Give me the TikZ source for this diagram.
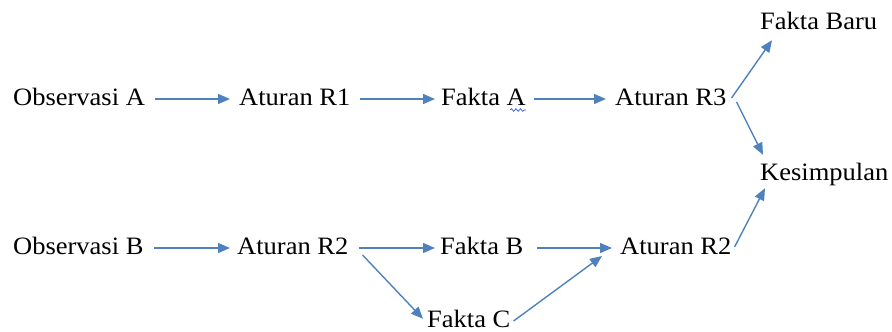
\documentclass[tikz,border=0pt]{standalone}
\usepackage{fontspec}
\setmainfont{Liberation Serif}[FakeStretch=1.06]
\usetikzlibrary{arrows.meta,calc,decorations.pathmorphing}
\definecolor{arrowblue}{RGB}{79,129,189}
\definecolor{spellblue}{RGB}{40,90,230}
\tikzset{
  term/.style={anchor=base west, inner sep=0pt, text height=12pt, text depth=0pt,
    font=\fontsize{25}{30}\selectfont},
  flow/.style={draw=arrowblue, line width=1.4pt,
    -{Triangle[length=12pt,width=10pt]}},
}
\begin{document}
\begin{tikzpicture}[x=1pt,y=-1pt]
  \useasboundingbox (0,0) rectangle (892,332);
  % first row
  \node[term] (obsA) at (13,105) {Observasi A};
  \node[term] (r1)   at (239,105) {Aturan R1};
  \node[term] (fa)   at (441,105) {Fakta A};
  \node[term] (r3)   at (615,105) {Aturan R3};
  % right column
  \node[term] (baru) at (760,30)  {Fakta Baru};
  \node[term] (kes)  at (760,180) {Kesimpulan};
  % second row
  \node[term] (obsB) at (13,254)  {Observasi B};
  \node[term] (r2)   at (237,254) {Aturan R2};
  \node[term] (fb)   at (440,254) {Fakta B};
  \node[term] (r2b)  at (620,254) {Aturan R2};
  \node[term] (fc)   at (427,327) {Fakta C};
  % wavy mark under the A of Fakta A
  \draw[spellblue, line width=0.7pt,
        decorate, decoration={snake, amplitude=1.3pt, segment length=4.5pt}]
    ($(fa.base east)+(-16,5)$) -- ($(fa.base east)+(0,5)$);
  % connectors, first row
  \draw[flow, shorten <=10pt, shorten >=9pt] (obsA.east) -- (r1.west);
  \draw[flow, shorten <=9pt, shorten >=6pt] (r1.east) -- (fa.west);
  \draw[flow, shorten <=8pt, shorten >=9pt] (fa.east) -- (r3.west);
  \draw[flow] ($(r3.east)+(5,-1)$) -- ($(baru.south west)+(12,10)$);
  \draw[flow] ($(r3.east)+(10,3)$) -- ($(kes.north west)+(3,-13)$);
  % connectors, second row
  \draw[flow, shorten <=10pt, shorten >=7pt] (obsB.east) -- (r2.west);
  \draw[flow, shorten <=10pt, shorten >=5pt] (r2.east) -- (fb.west);
  \draw[flow, shorten <=13pt, shorten >=8pt] (fb.east) -- (r2b.west);
  \draw[flow] ($(r2.east)+(14,7)$) -- ($(fc.north west)+(-4,4)$);
  \draw[flow] ($(fc.east)+(3,0)$) -- ($(r2b.west)+(-18,8)$);
  \draw[flow] ($(r2b.east)+(3,-1)$) -- ($(kes.south west)+(5,8)$);
\end{tikzpicture}
\end{document}
